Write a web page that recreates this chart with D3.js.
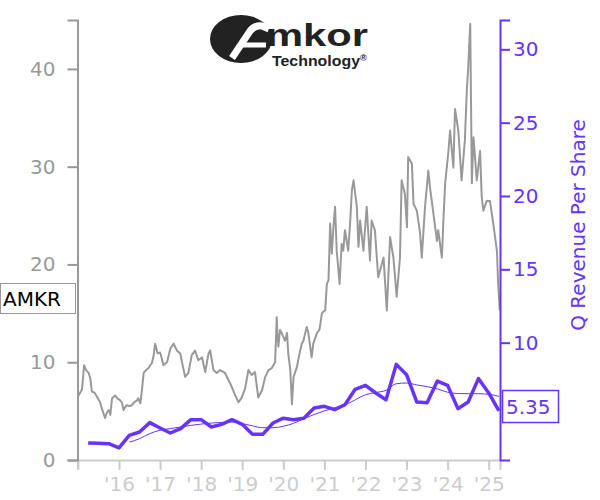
<!DOCTYPE html>
<html><head><meta charset="utf-8">
<script src="https://cdn.jsdelivr.net/npm/d3@7/dist/d3.min.js"></script>
<style>body{margin:0;background:#fff}svg{display:block;font-family:"DejaVu Sans",sans-serif}</style>
</head><body>
<script>
// ---- data ----
const ticker = "AMKR";
const lastRevenueLabel = "5.35";
const yearTicks = [2015,2016,2017,2018,2019,2020,2021,2022,2023,2024,2025];
const leftTicks = [0,10,20,30,40];
const rightTicks = [10,15,20,25,30];
// price: [decimal year, price]
const priceData = [
[2015.00,6.5],[2015.10,7.2],[2015.15,9.7],[2015.20,9.2],[2015.26,8.9],[2015.30,8.4],[2015.34,7.0],[2015.40,6.9],[2015.46,6.5],[2015.54,5.9],[2015.58,5.3],[2015.62,4.8],[2015.66,4.3],[2015.71,4.9],[2015.75,5.1],[2015.79,4.6],[2015.83,6.3],[2015.91,6.6],[2015.96,6.3],
[2016.03,6.1],[2016.07,5.9],[2016.11,5.1],[2016.15,5.4],[2016.19,5.6],[2016.26,5.5],[2016.31,5.6],[2016.37,5.9],[2016.44,6.1],[2016.47,6.3],[2016.52,5.8],[2016.56,7.2],[2016.60,8.9],[2016.66,9.2],[2016.72,9.4],[2016.76,9.7],[2016.80,9.9],[2016.84,10.6],[2016.88,11.9],[2016.94,10.9],
[2017.00,11.0],[2017.04,10.4],[2017.08,9.7],[2017.17,10.0],[2017.25,11.4],[2017.33,11.9],[2017.41,11.2],[2017.49,10.9],[2017.61,8.5],[2017.69,8.9],[2017.77,10.7],[2017.85,11.2],[2017.93,10.2],
[2018.02,10.5],[2018.10,9.0],[2018.18,10.9],[2018.22,11.2],[2018.30,9.2],[2018.38,8.9],[2018.46,9.2],[2018.58,8.9],[2018.71,7.8],[2018.83,6.6],[2018.91,5.9],[2018.99,6.4],
[2019.07,7.3],[2019.15,9.2],[2019.23,8.7],[2019.31,9.0],[2019.39,6.4],[2019.48,7.1],[2019.56,8.5],[2019.64,9.2],[2019.72,9.4],[2019.80,10.0],[2019.84,14.6],[2019.86,12.6],[2019.88,11.6],[2019.92,13.3],[2019.96,13.0],
[2020.00,12.6],[2020.04,12.2],[2020.09,13.0],[2020.12,10.9],[2020.17,9.2],[2020.21,5.7],[2020.25,8.5],[2020.33,9.5],[2020.41,11.2],[2020.45,11.9],[2020.49,12.2],[2020.57,13.6],[2020.61,13.0],[2020.69,10.5],[2020.73,11.9],[2020.82,13.0],[2020.88,13.3],[2020.94,15.0],[2020.98,15.2],
[2021.02,15.3],[2021.06,18.0],[2021.10,18.4],[2021.14,24.2],[2021.18,21.1],[2021.22,23.8],[2021.26,25.9],[2021.30,21.4],[2021.37,18.0],[2021.42,22.1],[2021.46,21.4],[2021.50,23.5],[2021.58,21.4],[2021.63,24.5],[2021.67,27.6],[2021.71,28.6],[2021.79,25.9],[2021.83,21.8],[2021.87,24.5],[2021.95,21.4],
[2022.03,25.9],[2022.11,20.4],[2022.15,24.5],[2022.23,23.5],[2022.31,18.7],[2022.44,20.7],[2022.52,15.3],[2022.60,22.8],[2022.68,20.7],[2022.76,16.7],[2022.84,20.7],[2022.88,28.6],[2022.96,27.2],
[2023.01,23.8],[2023.04,31.0],[2023.13,30.3],[2023.17,26.2],[2023.25,25.5],[2023.33,23.2],[2023.37,20.7],[2023.45,25.9],[2023.53,29.6],[2023.57,27.9],[2023.74,22.4],[2023.77,23.5],[2023.86,20.7],[2023.90,24.8],[2023.94,28.3],
[2024.02,31.6],[2024.06,33.7],[2024.14,29.9],[2024.18,35.9],[2024.26,33.7],[2024.34,28.6],[2024.42,32.7],[2024.47,38.1],[2024.50,40.0],[2024.55,44.6],[2024.59,28.3],[2024.63,33.0],[2024.71,28.6],[2024.79,31.6],[2024.83,26.9],[2024.87,25.5],[2024.95,26.5],
[2025.03,26.5],[2025.11,24.2],[2025.20,21.4],[2025.23,18.0],[2025.27,15.3]
];
const quarters = ["2015Q1","2015Q2","2015Q3","2015Q4","2016Q1","2016Q2","2016Q3","2016Q4","2017Q1","2017Q2","2017Q3","2017Q4","2018Q1","2018Q2","2018Q3","2018Q4","2019Q1","2019Q2","2019Q3","2019Q4","2020Q1","2020Q2","2020Q3","2020Q4","2021Q1","2021Q2","2021Q3","2021Q4","2022Q1","2022Q2","2022Q3","2022Q4","2023Q1","2023Q2","2023Q3","2023Q4","2024Q1","2024Q2","2024Q3","2024Q4","2025Q1"];
const revenuePerShare = [3.16,3.14,3.11,2.82,3.68,3.91,4.55,4.18,3.84,4.14,4.75,4.75,4.25,4.43,4.75,4.43,3.75,3.75,4.52,4.85,4.75,4.85,5.54,5.66,5.43,5.77,6.82,7.09,6.57,6.11,8.52,7.82,5.95,5.91,7.38,7.09,5.50,5.95,7.55,6.57,5.35];
const revenueSmooth = [null,null,null,null,3.22,3.45,3.8,4.03,4.14,4.25,4.36,4.45,4.52,4.56,4.59,4.48,4.33,4.2,4.2,4.3,4.5,4.82,5.1,5.35,5.55,5.75,6.1,6.45,6.6,6.75,7.2,7.25,7.12,7.0,6.85,6.62,6.53,6.52,6.52,6.48,6.34];

// ---- chart ----
const W = 600, H = 500;
const PURPLE = "#6633ff";
const svg = d3.select("body").append("svg").attr("width", W).attr("height", H);

const x = d3.scaleLinear().domain([2014.99, 2025.275]).range([77.5, 500]);
const yL = d3.scaleLinear().domain([0, 45]).range([460, 20]);
const yR = d3.scaleLinear().domain([2, 32]).range([460, 20]);
const qDate = q => +q.slice(0,4) + (+q.slice(5)) * 0.25;

// price line
svg.append("path").datum(priceData)
  .attr("fill","none").attr("stroke","#999").attr("stroke-width",2).attr("stroke-linejoin","round")
  .attr("d", d3.line().x(d => x(d[0])).y(d => yL(d[1])));

// smooth revenue
const smooth = quarters.map((q,i) => [qDate(q), revenueSmooth[i]]).filter(d => d[1] != null);
svg.append("path").datum(smooth)
  .attr("fill","none").attr("stroke",PURPLE).attr("stroke-width",1)
  .attr("d", d3.line().curve(d3.curveMonotoneX).x(d => x(d[0])).y(d => yR(d[1])));

// quarterly revenue
const rev = quarters.map((q,i) => [qDate(q), revenuePerShare[i]]);
svg.append("path").datum(rev)
  .attr("fill","none").attr("stroke",PURPLE).attr("stroke-width",3.5).attr("stroke-linejoin","round")
  .attr("d", d3.line().x(d => x(d[0])).y(d => yR(d[1])));

// bottom axis
const gx = svg.append("g").attr("transform","translate(0,460)")
  .call(d3.axisBottom(x).tickValues(yearTicks).tickSize(10).tickPadding(7)
    .tickFormat(d => d === 2015 ? "" : "'" + String(d).slice(2)));
gx.selectAll("path,line").attr("stroke","#ccc").attr("stroke-width",2);
gx.selectAll("text").attr("fill","#ccc").attr("font-size",20).attr("font-family","DejaVu Sans");

// left axis
const gl = svg.append("g").attr("transform","translate(77.5,0)")
  .call(d3.axisLeft(yL).tickValues(leftTicks).tickSize(10).tickPadding(12));
gl.selectAll("path,line").attr("stroke","#999").attr("stroke-width",2);
gl.selectAll("text").attr("fill","#999").attr("font-size",20).attr("font-family","DejaVu Sans");

// right axis
const gr = svg.append("g").attr("transform","translate(500,0)")
  .call(d3.axisRight(yR).tickValues(rightTicks).tickSize(10).tickPadding(3));
gr.selectAll("path,line").attr("stroke",PURPLE).attr("stroke-width",2);
gr.selectAll("text").attr("fill",PURPLE).attr("font-size",20).attr("font-family","DejaVu Sans");

svg.append("text").attr("transform","translate(585,225) rotate(-90)")
  .attr("text-anchor","middle").attr("fill",PURPLE).attr("font-size",20)
  .text("Q Revenue Per Share");

// ticker box
svg.append("rect").attr("x",0.5).attr("y",283.5).attr("width",75).attr("height",30)
  .attr("fill","#fff").attr("stroke","#999");
svg.append("text").attr("x",3).attr("y",306).attr("font-size",20).attr("fill","#000").text(ticker);

// last value box
svg.append("rect").attr("x",502.5).attr("y",390.5).attr("width",56).attr("height",32)
  .attr("fill","#fff").attr("stroke",PURPLE).attr("stroke-width",1.5);
svg.append("text").attr("x",506).attr("y",414).attr("font-size",20).attr("fill",PURPLE).text(lastRevenueLabel);

// logo
const logo = svg.append("g");
logo.append("ellipse").attr("cx",241).attr("cy",39).attr("rx",31).attr("ry",24).attr("fill","#222");
logo.append("path").attr("d","M232,58 L250,31 Q255,25 262,26 L269,29")
  .attr("fill","none").attr("stroke","#fff").attr("stroke-width",7).attr("stroke-linecap","butt");
logo.append("path").attr("d","M241,45 L266,45").attr("stroke","#fff").attr("stroke-width",5);
logo.append("text").attr("x",266).attr("y",45.5).attr("font-size",32).attr("font-weight","bold")
  .attr("font-family","Liberation Sans")
  .attr("fill","#222").attr("textLength",102).attr("lengthAdjust","spacingAndGlyphs").text("mkor");
const tech = logo.append("text").attr("x",272).attr("y",66).attr("font-size",14).attr("font-weight","bold")
  .attr("font-family","Liberation Sans").attr("fill","#222");
tech.append("tspan").attr("textLength",88).attr("lengthAdjust","spacingAndGlyphs").text("Technology");
tech.append("tspan").attr("dy",-5).attr("font-size",9).text("®");
</script>
</body></html>
